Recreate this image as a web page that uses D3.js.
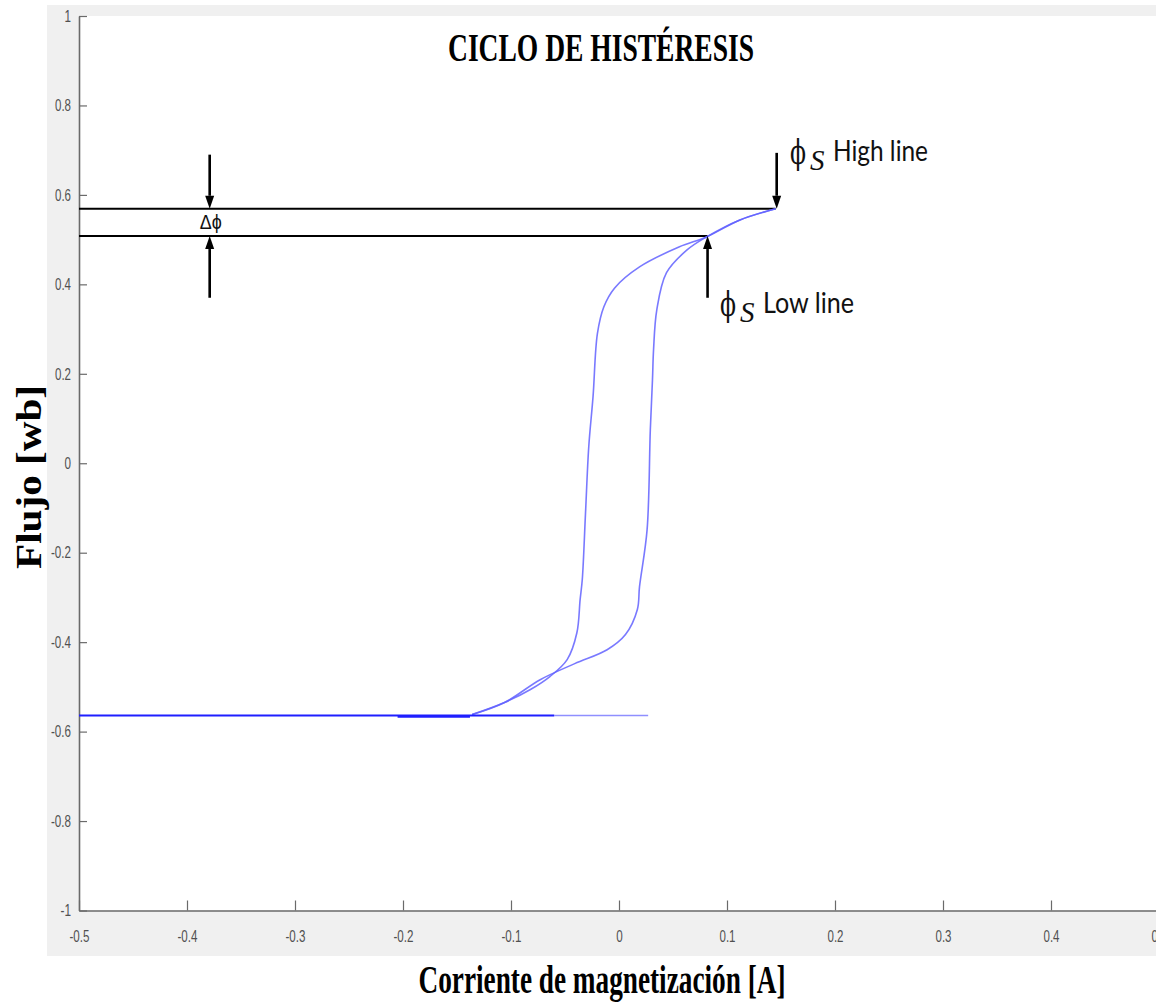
<!DOCTYPE html>
<html>
<head>
<meta charset="utf-8">
<script src="https://cdn.jsdelivr.net/npm/d3@7"></script>
<style>
  html, body { margin: 0; padding: 0; background: #ffffff; }
  svg { display: block; }
</style>
</head>
<body>
<svg id="chart" width="1156" height="1004"></svg>
<script>
// ---------- data ----------
const xTicks = [-0.5, -0.4, -0.3, -0.2, -0.1, 0, 0.1, 0.2, 0.3, 0.4, 0.5];
const yTicks = [-1, -0.8, -0.6, -0.4, -0.2, 0, 0.2, 0.4, 0.6, 0.8, 1];

// ascending branch (current increasing), magnetizing current [A]
const ascI   = [-0.136, -0.106, -0.073, -0.041, -0.011, 0.006, 0.017, 0.019, 0.026, 0.029, 0.031, 0.032, 0.035, 0.044, 0.063, 0.081, 0.112, 0.145];
const ascPhi = [-0.562, -0.535, -0.484, -0.448, -0.417, -0.383, -0.327, -0.276, -0.149, 0.075, 0.187, 0.254, 0.343, 0.426, 0.477, 0.506, 0.544, 0.569];

// descending branch (current decreasing)
const descI   = [0.145, 0.112, 0.081, 0.056, 0.019, -0.004, -0.014, -0.020, -0.024, -0.028, -0.031, -0.034, -0.036, -0.039, -0.048, -0.064, -0.082, -0.106, -0.136];
const descPhi = [0.569, 0.544, 0.506, 0.484, 0.439, 0.392, 0.350, 0.290, 0.150, 0.037, -0.111, -0.260, -0.305, -0.379, -0.439, -0.477, -0.506, -0.535, -0.562];

// negative saturation flat segment
const flatI      = [-0.5, -0.06];
const flatExtI   = [-0.06, 0.027];
const flatBlobI  = [-0.205, -0.138];
const flatPhi    = -0.564;

// saturation annotations
const phiHigh = 0.569, phiHighI = 0.145;
const phiLow  = 0.508, phiLowI  = 0.082;
const deltaI  = -0.379;
const arrowTopPhi = 0.69, arrowBottomPhi = 0.37;

const titleText = "CICLO DE HISTÉRESIS";
const xLabel = "Corriente de magnetización [A]";
const yLabel = "Flujo [wb]";

// ---------- drawing ----------
const svg = d3.select("#chart");
const x = d3.scaleLinear().domain([-0.5, 0.5]).range([79, 1159]);
const y = d3.scaleLinear().domain([-1, 1]).range([910.5, 16]);

// figure background
svg.append("rect").attr("x", 47).attr("y", 5).attr("width", 1109).attr("height", 951).attr("fill", "#f0f0f0");
svg.append("rect").attr("x", 79).attr("y", 16).attr("width", 1156 - 79).attr("height", 910.5 - 16).attr("fill", "#ffffff");

// axes
const tickFont = "'Liberation Sans', Arial, sans-serif";
const fmt = d => String(d);
const labelLen = s => [...s].reduce((a, c) => a + (c === "." ? 3 : c === "-" ? 4 : 6.5), 0);
const xAxis = svg.append("g").attr("transform", `translate(0,${y(-1)})`)
  .call(d3.axisBottom(x).tickValues(xTicks).tickSizeInner(-10).tickSizeOuter(0).tickPadding(20).tickFormat(fmt));
const yAxis = svg.append("g").attr("transform", `translate(${x(-0.5)},0)`)
  .call(d3.axisLeft(y).tickValues(yTicks).tickSizeInner(-8).tickSizeOuter(0).tickPadding(8).tickFormat(fmt));
[xAxis, yAxis].forEach(g => {
  g.select(".domain").attr("stroke", "#6a6a6a").attr("stroke-width", 1.6);
  g.selectAll(".tick line").attr("stroke", "#6a6a6a").attr("stroke-width", 1.2);
  g.selectAll(".tick text").attr("fill", "#505050").attr("font-family", tickFont).attr("font-size", 16.5)
    .attr("textLength", d => labelLen(fmt(d))).attr("lengthAdjust", "spacingAndGlyphs");
});
xAxis.selectAll(".tick text").attr("dy", "0.71em");

// saturation lines
svg.append("line").attr("x1", x(-0.5)).attr("x2", x(phiHighI)).attr("y1", y(phiHigh)).attr("y2", y(phiHigh))
  .attr("stroke", "#000").attr("stroke-width", 2);
svg.append("line").attr("x1", x(-0.5)).attr("x2", x(phiLowI)).attr("y1", y(phiLow)).attr("y2", y(phiLow))
  .attr("stroke", "#000").attr("stroke-width", 2);

// hysteresis curve
const line = d3.line().x(d => x(d[0])).y(d => y(d[1])).curve(d3.curveCatmullRom.alpha(0.5));
const asc = ascI.map((v, i) => [v, ascPhi[i]]);
const desc = descI.map((v, i) => [v, descPhi[i]]);
svg.append("path").attr("d", line(asc)).attr("fill", "none").attr("stroke", "#6262ff").attr("stroke-width", 1.6).attr("stroke-opacity", 0.85);
svg.append("path").attr("d", line(desc)).attr("fill", "none").attr("stroke", "#6262ff").attr("stroke-width", 1.6).attr("stroke-opacity", 0.85);

// flat negative saturation
svg.append("line").attr("x1", x(flatExtI[0])).attr("x2", x(flatExtI[1])).attr("y1", y(flatPhi)).attr("y2", y(flatPhi))
  .attr("stroke", "#8f8fff").attr("stroke-width", 1.6);
svg.append("line").attr("x1", x(flatI[0])).attr("x2", x(flatI[1])).attr("y1", y(flatPhi)).attr("y2", y(flatPhi))
  .attr("stroke", "#1f1fff").attr("stroke-width", 2.2);
svg.append("line").attr("x1", x(flatBlobI[0])).attr("x2", x(flatBlobI[1])).attr("y1", y(flatPhi) + 1).attr("y2", y(flatPhi) + 1)
  .attr("stroke", "#1f1fff").attr("stroke-width", 2.6);

// arrows
function arrow(xv, fromPhi, toPhi) {
  const px = x(xv), y0 = y(fromPhi), y1 = y(toPhi);
  const dir = Math.sign(y1 - y0);
  const headLen = 13, headW = 4.5;
  svg.append("line").attr("x1", px).attr("x2", px).attr("y1", y0).attr("y2", y1 - dir * headLen)
    .attr("stroke", "#000").attr("stroke-width", 2.6);
  svg.append("path")
    .attr("d", `M${px},${y1} L${px - headW},${y1 - dir * headLen} L${px + headW},${y1 - dir * headLen} Z`)
    .attr("fill", "#000");
}
arrow(deltaI, arrowTopPhi, phiHigh);
arrow(deltaI, arrowBottomPhi, phiLow);
arrow(phiHighI + 0.001, 0.694, phiHigh);
arrow(phiLowI, arrowBottomPhi, phiLow);

// delta phi label
svg.append("text").attr("x", x(deltaI) + 1).attr("y", 229).attr("text-anchor", "middle")
  .attr("font-family", tickFont).attr("font-size", 21).attr("fill", "#111")
  .attr("textLength", 22).attr("lengthAdjust", "spacingAndGlyphs").text("Δϕ");

// phi_S labels
function phiLabel(px, baseline, word, wordLen) {
  svg.append("text").attr("x", px).attr("y", baseline + 3)
    .attr("font-family", "'DejaVu Serif', serif").attr("font-size", 34).attr("fill", "#111")
    .attr("textLength", 16).attr("lengthAdjust", "spacingAndGlyphs").text("ϕ");
  svg.append("text").attr("x", px + 20).attr("y", baseline + 9)
    .attr("font-family", "'Liberation Serif', serif").attr("font-style", "italic").attr("font-size", 29).attr("fill", "#111")
    .text("S");
  svg.append("text").attr("x", px + 43).attr("y", baseline)
    .attr("font-family", "Lato, 'Open Sans', sans-serif").attr("font-size", 28).attr("fill", "#111")
    .attr("textLength", wordLen).attr("lengthAdjust", "spacingAndGlyphs").text(word);
}
phiLabel(790, 161, "High line", 95);
phiLabel(720, 313, "Low line", 91);

// title and axis labels
svg.append("text").attr("x", 601).attr("y", 61).attr("text-anchor", "middle")
  .attr("font-family", "'Liberation Serif', 'Times New Roman', serif").attr("font-weight", "bold").attr("font-size", 40)
  .attr("textLength", 306).attr("lengthAdjust", "spacingAndGlyphs").attr("fill", "#000").text(titleText);
svg.append("text").attr("x", 602).attr("y", 993).attr("text-anchor", "middle")
  .attr("font-family", "'Liberation Serif', 'Times New Roman', serif").attr("font-weight", "bold").attr("font-size", 40)
  .attr("textLength", 367).attr("lengthAdjust", "spacingAndGlyphs").attr("fill", "#000").text(xLabel);
svg.append("text").attr("transform", "translate(41,477) rotate(-90)").attr("text-anchor", "middle")
  .attr("font-family", "'Liberation Serif', 'Times New Roman', serif").attr("font-weight", "bold").attr("font-size", 35)
  .attr("textLength", 184).attr("lengthAdjust", "spacingAndGlyphs").attr("fill", "#000").text(yLabel);
</script>
</body>
</html>
